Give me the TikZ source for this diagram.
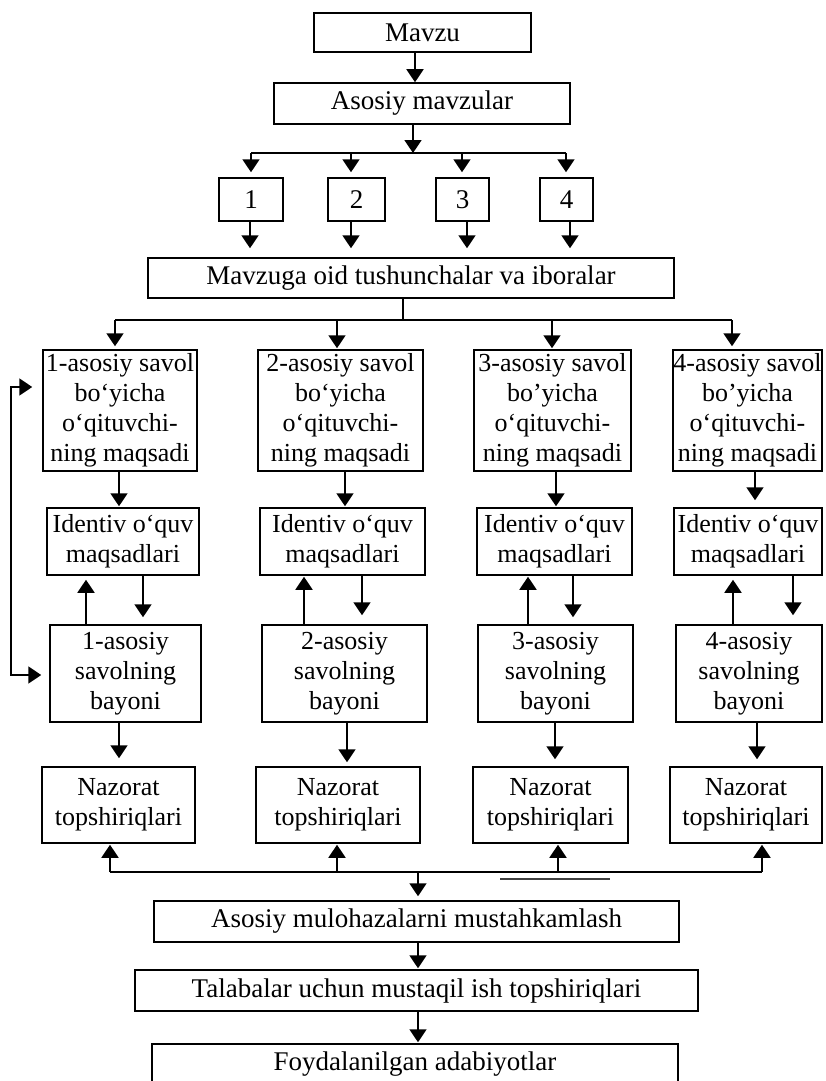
\documentclass[tikz,border=0pt]{standalone}
\usepackage{fontspec}
\setmainfont{Liberation Serif}
\usetikzlibrary{arrows.meta}
\newcommand{\fsA}{\fontsize{27}{30}\selectfont}
\newcommand{\fsB}{\fontsize{26}{30}\selectfont}
\begin{document}
\begin{tikzpicture}[x=1pt,y=-1pt,
  box/.style={draw, line width=1.5pt, inner sep=0pt, align=center, font=\fsA},
  mbox/.style={box, font=\fsB},
  ln/.style={line width=1.8pt},
  arr/.style={ln, -{Triangle[width=17pt,length=13pt]}},
  biarr/.style={ln, {Triangle[width=17pt,length=13pt]}-{Triangle[width=17pt,length=13pt]}},
]
\fill[white] (0,0) rectangle (825,1081);
\useasboundingbox (0,0) rectangle (825,1081);
\clip (0,0) rectangle (825,1081);

% top part
\node[box, minimum width=217, minimum height=39] (mv) at (422.5,32.5) {Mavzu};
\node[box, minimum width=296, minimum height=41] (as) at (422,103.5) {Asosiy mavzular};
\node[box, minimum width=64, minimum height=43] (t1) at (251,199.5) {1};
\node[box, minimum width=57, minimum height=43] (t2) at (356.5,199.5) {2};
\node[box, minimum width=53, minimum height=43] (t3) at (462.5,199.5) {3};
\node[box, minimum width=53, minimum height=43] (t4) at (566.5,199.5) {4};
\node[box, minimum width=526, minimum height=40] (mt) at (411,278) {Mavzuga oid tushunchalar va iboralar};

% question boxes
\node[mbox, minimum width=154, minimum height=121] (q1) at (120,410.5) {1-asosiy savol\\bo‘yicha\\o‘qituvchi-\\ning maqsadi};
\node[mbox, minimum width=165, minimum height=121] (q2) at (340.5,410.5) {2-asosiy savol\\bo‘yicha\\o‘qituvchi-\\ning maqsadi};
\node[mbox, minimum width=157, minimum height=121] (q3) at (552.5,410.5) {3-asosiy savol\\bo’yicha\\o‘qituvchi-\\ning maqsadi};
\node[mbox, minimum width=149, minimum height=121] (q4) at (747.5,410.5) {4-asosiy savol\\bo’yicha\\o‘qituvchi-\\ning maqsadi};

% identiv boxes
\node[mbox, minimum width=152, minimum height=67] (i1) at (123,541.5) {Identiv o‘quv\\maqsadlari};
\node[mbox, minimum width=165, minimum height=67] (i2) at (342.5,541.5) {Identiv o‘quv\\maqsadlari};
\node[mbox, minimum width=155, minimum height=67] (i3) at (554.5,541.5) {Identiv o‘quv\\maqsadlari};
\node[mbox, minimum width=148, minimum height=67] (i4) at (748,541.5) {Identiv o‘quv\\maqsadlari};

% bayoni boxes
\node[mbox, minimum width=151, minimum height=97] (b1) at (125.5,673.5) {1-asosiy\\savolning\\bayoni};
\node[mbox, minimum width=165, minimum height=97] (b2) at (344.5,673.5) {2-asosiy\\savolning\\bayoni};
\node[mbox, minimum width=155, minimum height=97] (b3) at (555.5,673.5) {3-asosiy\\savolning\\bayoni};
\node[mbox, minimum width=146, minimum height=97] (b4) at (749,673.5) {4-asosiy\\savolning\\bayoni};

% nazorat boxes
\node[mbox, minimum width=153, minimum height=76] (n1) at (118.5,805) {Nazorat\\topshiriqlari};
\node[mbox, minimum width=164, minimum height=76] (n2) at (338,805) {Nazorat\\topshiriqlari};
\node[mbox, minimum width=155, minimum height=76] (n3) at (550.5,805) {Nazorat\\topshiriqlari};
\node[mbox, minimum width=152, minimum height=76] (n4) at (746,805) {Nazorat\\topshiriqlari};

% bottom
\node[box, minimum width=525, minimum height=41] (am) at (416.5,921.5) {Asosiy mulohazalarni mustahkamlash};
\node[box, minimum width=563, minimum height=41] (tl) at (416.5,990.5) {Talabalar uchun mustaqil ish topshiriqlari};
\node[box, minimum width=526, minimum height=40] (fy) at (415,1064) {Foydalanilgan adabiyotlar};

% connectors top
\draw[arr] (mv.south -| 415,0) -- (as.north -| 415,0);
\coordinate (fm) at (413,153);
\coordinate (fa) at (251,153);
\coordinate (fb) at (351,153);
\coordinate (fc) at (462,153);
\coordinate (fd) at (566,153);
\draw[arr] (as.south -| fm) -- (fm);
\draw[ln] (fa) -- (fd);
\draw[arr, shorten >=5pt] (fa) -- (t1.north -| fa);
\draw[arr, shorten >=5pt] (fb) -- (t2.north -| fb);
\draw[arr, shorten >=5pt] (fc) -- (t3.north -| fc);
\draw[arr, shorten >=5pt] (fd) -- (t4.north -| fd);
\draw[arr, shorten >=9pt] (t1.south -| 250,0) -- (mt.north -| 250,0);
\draw[arr, shorten >=9pt] (t2.south -| 351,0) -- (mt.north -| 351,0);
\draw[arr, shorten >=9pt] (t3.south -| 467,0) -- (mt.north -| 467,0);
\draw[arr, shorten >=9pt] (t4.south -| 570,0) -- (mt.north -| 570,0);

% second fork
\coordinate (gm) at (403,320);
\coordinate (ga) at (115,320);
\coordinate (gb) at (337,320);
\coordinate (gc) at (552,320);
\coordinate (gd) at (732,320);
\draw[ln] (mt.south -| gm) -- (gm);
\draw[ln] (ga) -- (gd);
\draw[arr, shorten >=3pt] (ga) -- (q1.north -| ga);
\draw[arr, shorten >=1pt] (gb) -- (q2.north -| gb);
\draw[arr, shorten >=1pt] (gc) -- (q3.north -| gc);
\draw[arr, shorten >=3pt] (gd) -- (q4.north -| gd);

% question -> identiv
\draw[arr, shorten >=1pt] (q1.south -| 119,0) -- (i1.north -| 119,0);
\draw[arr, shorten >=1pt] (q2.south -| 345,0) -- (i2.north -| 345,0);
\draw[arr, shorten >=1pt] (q3.south -| 556,0) -- (i3.north -| 556,0);
\draw[arr, shorten >=7pt] (q4.south -| 755,0) -- (i4.north -| 755,0);

% bayoni -> identiv (up)
\draw[arr, shorten >=4pt] (b1.north -| 86,0) -- (i1.south -| 86,0);
\draw[arr, shorten >=1pt] (b2.north -| 304,0) -- (i2.south -| 304,0);
\draw[arr, shorten >=1pt] (b3.north -| 528,0) -- (i3.south -| 528,0);
\draw[arr, shorten >=4pt] (b4.north -| 733,0) -- (i4.south -| 733,0);

% identiv -> bayoni (down)
\draw[arr, shorten >=7pt] (i1.south -| 143,0) -- (b1.north -| 143,0);
\draw[arr, shorten >=9pt] (i2.south -| 362,0) -- (b2.north -| 362,0);
\draw[arr, shorten >=7pt] (i3.south -| 573,0) -- (b3.north -| 573,0);
\draw[arr, shorten >=9pt] (i4.south -| 793,0) -- (b4.north -| 793,0);

% bayoni -> nazorat
\draw[arr, shorten >=8pt] (b1.south -| 119,0) -- (n1.north -| 119,0);
\draw[arr, shorten >=4pt] (b2.south -| 347,0) -- (n2.north -| 347,0);
\draw[arr, shorten >=7pt] (b3.south -| 555,0) -- (n3.north -| 555,0);
\draw[arr, shorten >=7pt] (b4.south -| 757,0) -- (n4.north -| 757,0);

% left feedback loop
\coordinate (la) at (11,387);
\coordinate (lb) at (11,675);
\draw[biarr, shorten <=10pt, shorten >=8pt] (q1.west |- la) -- (la) -- (lb) -- (b1.west |- lb);

% third fork
\coordinate (hm) at (418,872);
\coordinate (ha) at (110,872);
\coordinate (hb) at (337,872);
\coordinate (hc) at (558,872);
\coordinate (hd) at (762,872);
\draw[ln] (ha) -- (hd);
\draw[arr, shorten >=1pt] (ha) -- (n1.south -| ha);
\draw[arr, shorten >=1pt] (hb) -- (n2.south -| hb);
\draw[arr, shorten >=1pt] (hc) -- (n3.south -| hc);
\draw[arr, shorten >=1pt] (hd) -- (n4.south -| hd);
\draw[arr, shorten >=4pt] (hm) -- (am.north -| hm);
\coordinate (s1) at (500,879);
\coordinate (s2) at (610,879);
\draw[line width=1.2pt, black!75] (s1) -- (s2);

% bottom chain
\draw[arr, shorten >=1pt] (am.south -| 418,0) -- (tl.north -| 418,0);
\draw[arr, shorten >=1pt] (tl.south -| 418,0) -- (fy.north -| 418,0);
\end{tikzpicture}
\end{document}
